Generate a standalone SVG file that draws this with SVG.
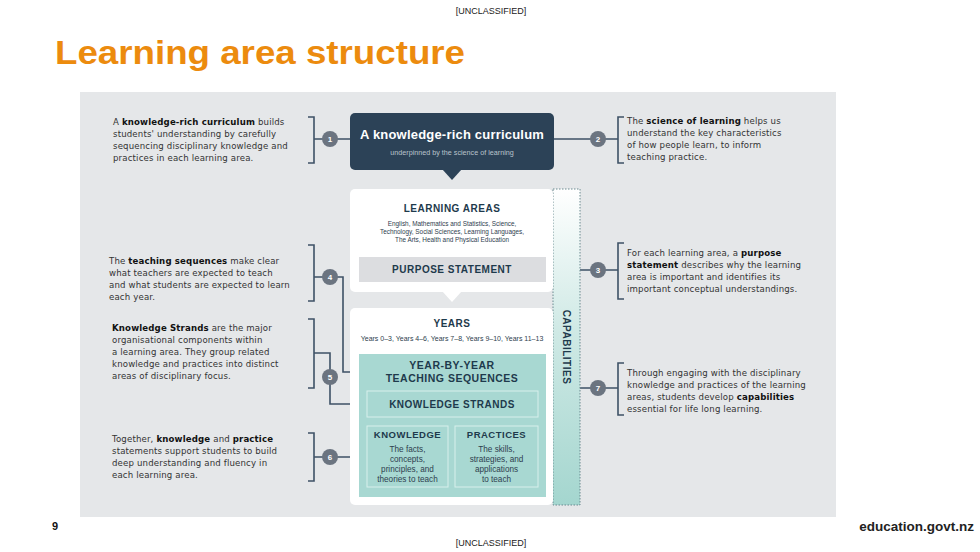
<svg xmlns="http://www.w3.org/2000/svg" width="980" height="552" viewBox="0 0 980 552">
<defs>
<style>
text{font-family:"Liberation Sans",Arial,sans-serif}
.d{font-family:"DejaVu Sans",sans-serif;font-size:8.6px;fill:#333;letter-spacing:0.15px}
.b{font-weight:bold;fill:#111}
.h{font-weight:bold;fill:#1e3a4c;text-anchor:middle;letter-spacing:0.5px}
.s{fill:#2e3e4e;text-anchor:middle}
.ln{stroke:#3e5266;stroke-width:1.6;fill:none}
.c{fill:#6b7480}
.n{fill:#fff;font-size:8px;font-weight:bold;text-anchor:middle}
</style>
<linearGradient id="cap" x1="0" y1="0" x2="0" y2="1"><stop offset="0" stop-color="#fff"/><stop offset="0.45" stop-color="#cfe9e5"/><stop offset="1" stop-color="#a4d6cf"/></linearGradient>
</defs>
<rect width="980" height="552" fill="#fff"/>
<text x="491" y="14" font-size="9" text-anchor="middle" fill="#222">[UNCLASSIFIED]</text>
<text x="491" y="546" font-size="9" text-anchor="middle" fill="#222">[UNCLASSIFIED]</text>
<text x="55" y="64" font-size="33" font-weight="bold" fill="#ec8b0e" textLength="410" lengthAdjust="spacingAndGlyphs">Learning area structure</text>
<text x="52" y="530" font-size="11" font-weight="bold" fill="#111">9</text>
<text x="974" y="531" font-size="13.5" font-weight="bold" fill="#222" text-anchor="end">education.govt.nz</text>
<rect x="80" y="92" width="756" height="425" fill="#e5e7e9"/>

<g id="connectors">
<path class="ln" d="M308 117H314V163H308M314 139H350"/>
<path class="ln" d="M554 139H618M624 117H618V163H624"/>
<path class="ln" d="M546 270H618M624 243H618V299H624"/>
<path class="ln" d="M580 388H618M624 363H618V415H624"/>
<path class="ln" d="M308 245H314V301H308M314 277H343V372H359"/>
<path class="ln" d="M308 319H314V388H308M314 353H330V404H367"/>
<path class="ln" d="M308 433H314V481H308M314 457H367"/>
</g>

<g id="top">
<rect x="350" y="113" width="204" height="57" rx="5" fill="#2c4257"/>
<path d="M442 169L452 180L462 169Z" fill="#2c4257"/>
<text x="452" y="139" font-size="13" font-weight="bold" fill="#fff" text-anchor="middle" letter-spacing="0.2">A knowledge-rich curriculum</text>
<text x="452" y="155" font-size="7.2" fill="#b9c3cc" text-anchor="middle">underpinned by the science of learning</text>
</g>

<g id="capabilities">
<rect x="553" y="189" width="27" height="316" fill="url(#cap)" stroke="#6b8a90" stroke-width="1" stroke-dasharray="1.5 1.5"/>
<text transform="translate(563 347) rotate(90)" font-size="10" class="h">CAPABILITIES</text>
</g>

<g id="learning-areas">
<rect x="350" y="189" width="203" height="103" rx="5" fill="#fff"/>
<path d="M442 291L452 302L462 291Z" fill="#fff"/>
<text x="452" y="212" font-size="10" class="h">LEARNING AREAS</text>
<text x="452" y="226" font-size="6.4" class="s">English, Mathematics and Statistics, Science,</text>
<text x="452" y="234" font-size="6.4" class="s">Technology, Social Sciences, Learning Languages,</text>
<text x="452" y="242" font-size="6.4" class="s">The Arts, Health and Physical Education</text>
</g>
<g id="purpose">
<rect x="359" y="257" width="187" height="25" fill="#dcdde0"/>
<text x="452" y="273" font-size="10" class="h">PURPOSE STATEMENT</text>
</g>

<g id="years">
<rect x="350" y="308" width="203" height="197" rx="5" fill="#fff"/>
<text x="452" y="327" font-size="10" class="h">YEARS</text>
<text x="452" y="341" font-size="7" class="s">Years 0–3, Years 4–6, Years 7–8, Years 9–10, Years 11–13</text>
</g>
<g id="sequences">
<rect x="359" y="354" width="187" height="143" fill="#a8d8d2"/>
<text x="452" y="369" font-size="10.5" class="h">YEAR-BY-YEAR</text>
<text x="452" y="382" font-size="10.5" class="h">TEACHING SEQUENCES</text>
</g>
<g id="strands">
<rect x="367" y="391" width="171" height="26" fill="none" stroke="#d8efec" stroke-width="1"/>
<text x="452" y="408" font-size="10" class="h">KNOWLEDGE STRANDS</text>
</g>
<g id="knowledge">
<rect x="367" y="426" width="81" height="61" fill="none" stroke="#d8efec" stroke-width="1"/>
<text x="407.5" y="438" font-size="9.5" class="h" letter-spacing="0.3">KNOWLEDGE</text>
<text x="407.5" y="452" font-size="8.2" class="s">The facts,</text>
<text x="407.5" y="462" font-size="8.2" class="s">concepts,</text>
<text x="407.5" y="472" font-size="8.2" class="s">principles, and</text>
<text x="407.5" y="482" font-size="8.2" class="s">theories to teach</text>
</g>
<g id="practices">
<rect x="455" y="426" width="83" height="61" fill="none" stroke="#d8efec" stroke-width="1"/>
<text x="496.5" y="438" font-size="9.5" class="h">PRACTICES</text>
<text x="496.5" y="452" font-size="8.2" class="s">The skills,</text>
<text x="496.5" y="462" font-size="8.2" class="s">strategies, and</text>
<text x="496.5" y="472" font-size="8.2" class="s">applications</text>
<text x="496.5" y="482" font-size="8.2" class="s">to teach</text>
</g>

<g id="n1"><circle class="c" cx="330" cy="139" r="8"/><text class="n" x="330" y="142">1</text>
<text class="d" x="113" y="125">A <tspan class="b">knowledge-rich curriculum</tspan> builds</text>
<text class="d" x="113" y="137">students' understanding by carefully</text>
<text class="d" x="113" y="149">sequencing disciplinary knowledge and</text>
<text class="d" x="113" y="161">practices in each learning area.</text></g>
<g id="n2"><circle class="c" cx="598" cy="139" r="8"/><text class="n" x="598" y="142">2</text>
<text class="d" x="627" y="124">The <tspan class="b">science of learning</tspan> helps us</text>
<text class="d" x="627" y="136">understand the key characteristics</text>
<text class="d" x="627" y="148">of how people learn, to inform</text>
<text class="d" x="627" y="160">teaching practice.</text></g>
<g id="n3"><circle class="c" cx="598" cy="270" r="8"/><text class="n" x="598" y="273">3</text>
<text class="d" x="627" y="256">For each learning area, a <tspan class="b">purpose</tspan></text>
<text class="d" x="627" y="268"><tspan class="b">statement</tspan> describes why the learning</text>
<text class="d" x="627" y="280">area is important and identifies its</text>
<text class="d" x="627" y="292">important conceptual understandings.</text></g>
<g id="n4"><circle class="c" cx="330" cy="277" r="8"/><text class="n" x="330" y="280">4</text>
<text class="d" x="109" y="264">The <tspan class="b">teaching sequences</tspan> make clear</text>
<text class="d" x="109" y="276">what teachers are expected to teach</text>
<text class="d" x="109" y="288">and what students are expected to learn</text>
<text class="d" x="109" y="300">each year.</text></g>
<g id="n5"><circle class="c" cx="330" cy="377" r="8"/><text class="n" x="330" y="380">5</text>
<text class="d" x="112" y="331"><tspan class="b">Knowledge Strands</tspan> are the major</text>
<text class="d" x="112" y="343">organisational components within</text>
<text class="d" x="112" y="355">a learning area. They group related</text>
<text class="d" x="112" y="367">knowledge and practices into distinct</text>
<text class="d" x="112" y="379">areas of disciplinary focus.</text></g>
<g id="n6"><circle class="c" cx="330" cy="457" r="8"/><text class="n" x="330" y="460">6</text>
<text class="d" x="112" y="442">Together, <tspan class="b">knowledge</tspan> and <tspan class="b">practice</tspan></text>
<text class="d" x="112" y="454">statements support students to build</text>
<text class="d" x="112" y="466">deep understanding and fluency in</text>
<text class="d" x="112" y="478">each learning area.</text></g>
<g id="n7"><circle class="c" cx="598" cy="388" r="8"/><text class="n" x="598" y="391">7</text>
<text class="d" x="627" y="376">Through engaging with the disciplinary</text>
<text class="d" x="627" y="388">knowledge and practices of the learning</text>
<text class="d" x="627" y="400">areas, students develop <tspan class="b">capabilities</tspan></text>
<text class="d" x="627" y="412">essential for life long learning.</text></g>
</svg>
